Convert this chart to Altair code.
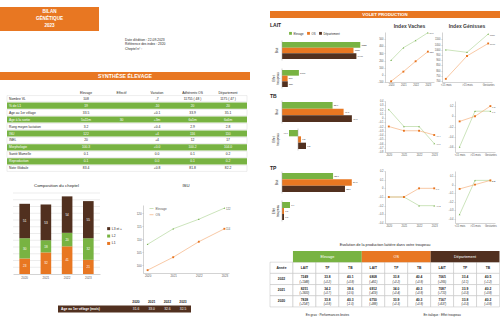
import altair as alt
import pandas as pd

FONT = "Liberation Sans"
ORANGE = "#E87722"
GREEN = "#78B342"
BROWN = "#51301F"
DARK = "#262626"
LBL = "#595959"
AXIS = "#A6A6A6"
GRID = "#D9D9D9"
LINE_E = "#A9D18E"
LINE_O = "#F4A46A"
MARK_E = "#70AD47"
MARK_O = "#E8731C"
W, HT = 500, 329

# ---------------- data ----------------
syn_rows = ["Nombre VL", "% de L1", "Age au 1er vêlage", "Age à la sortie", "Rang moyen lactation",
            "ISU", "INEL", "Morphologie", "Santé Mamelle", "Reproduction", "Note Globale"]
syn_cols = ["Elevage", "Effectif", "Variation", "Adhérents OS", "Département"]
syn_elevage = ["108", "19", "33.5", "5a11m", "3.2", "122", "20", "100.3", "0.1", "0.1", "83.4"]
syn_effectif = ["", "", "", "30", "", "", "", "", "", "", ""]
syn_variation = ["-7", "-10", "+0.1", "+3m", "+0.4", "+4", "+4", "+0.0", "0.0", "0.0", "+0.8"]
syn_os = ["11755 ( 48 )", "20", "33.9", "6a5m", "2.9", "116", "12", "100.2", "0.1", "0.1", "81.8"]
syn_dep = ["1175 ( 47 )", "20", "35.1", "6a6m", "2.8", "110", "17", "104.0", "0.2", "0.2", "82.2"]
syn_green = [False, True, False, True, False, True, False, True, False, True, False]

compo_years = ["2020", "2021", "2022", "2023"]
compo_l1 = [23, 32, 41, 21]
compo_l2 = [30, 18, 20, 32]
compo_l3 = [51, 53, 54, 55]

isu_elevage = [108, 114, 117.7, 122]
isu_os = [98, 103, 109, 114]

age_values = ["31.6", "33.0", "32.6", "32.5"]

series = ["Elevage", "OS", "Département"]
lait_brut = [7828, 7150, 7440]
lait_effet = [1690, 560, 580]
tb_brut = [38.9, 40.1, 41.0]
tb_effet = [-0.9, 0.3, 0.8]
tp_brut = [33.0, 34.1, 33.7]
tp_effet = [0.4, 0.1, 0.1]

gen_cats = ["<15 mois", ">15 mois", "Gestantes"]
lait_vaches_elev = [205, 380, 480, 590]
lait_vaches_os = [-90, 45, 190, 325]
lait_gen_elev = [1000, 975, 1150]
lait_gen_os = [720, 940, 1060]
tb_vaches_elev = [0.2, -0.2, -0.2, -0.6]
tb_vaches_os = [-0.2, -0.3, -0.3, -0.4]
tb_gen_elev = [-0.6, 0.1, 0.1]
tb_gen_os = [-0.1, 0.0, 0.2]
tp_vaches_elev = [-0.1, -0.1, -0.2, -0.2]
tp_vaches_os = [-0.1, -0.1, 0.0, 0.0]
tp_gen_elev = [-0.35, 0.05, 0.05]
tp_gen_os = [-0.05, 0.0, 0.05]

prod_years = ["2022", "2021", "2020"]
prod_groups = ["Elevage", "OS", "Département"]
prod_cols = ["LAIT", "TP", "TB"]
prod_2022_val = ["7249", "33.8", "40.1", "6808", "33.8", "40.4", "7065", "33.4", "40.5"]
prod_2022_delta = ["(+1348)", "(+0.2)", "(+0.8)", "(+451)", "(+0.2)", "(+0.8)", "(+265)", "(-0.1)", "(+1.2)"]
prod_2021_val = ["8251", "34.2", "38.6", "6912", "34.0", "40.3", "7087", "33.9", "40.2"]
prod_2021_delta = ["(+1600)", "(+0.7)", "(-0.5)", "(+419)", "(+0.4)", "(+0.8)", "(+710)", "(+0.3)", "(+0.8)"]
prod_2020_val = ["7828", "33.8", "40.3", "6750", "33.9", "40.3", "7167", "33.8", "40.2"]
prod_2020_delta = ["(+2147)", "(+0.8)", "(-1.0)", "(+388)", "(+0.3)", "(+0.8)", "(+637)", "(+0.3)", "(+0.8)"]

one = pd.DataFrame({"k": [0]})

COLOR_SCALE = alt.Scale(domain=series, range=[GREEN, ORANGE, BROWN])
STROKE_SCALE = alt.Scale(domain=["Elevage", "OS"], range=[LINE_E, LINE_O])


# ---------------- helpers ----------------
def T(text, x, y, size, color=DARK, weight="normal", align="left", baseline="middle", angle=0, style="normal"):
    return alt.Chart(one).mark_text(fontSize=size, fill=color, fontWeight=weight, align=align,
                                    baseline=baseline, angle=angle, fontStyle=style).encode(
        x=alt.value(x), y=alt.value(y), text=alt.value(text))


def R(x0, x1, y0, y1, color):
    return alt.Chart(one).mark_rect(fill=color).encode(
        x=alt.value(x0), x2=alt.value(x1), y=alt.value(y0), y2=alt.value(y1))


def line_chart(cats, elev, os_, domain, ticks, xr, yr, pad, tick_expr, vfmt,
               legend=None, lab_size=2.6, end_size=2.4):
    n = len(cats)
    df = pd.DataFrame({"cat": cats + cats, "serie": ["Elevage"] * n + ["OS"] * n,
                       "v": elev + os_, "last": [False] * (n - 1) + [True] + [False] * (n - 1) + [True]})
    xs = alt.X("cat:N", scale=alt.Scale(type="point", domain=cats, range=xr, padding=pad),
               axis=alt.Axis(orient="bottom", offset=yr[0] - HT, title=None, labelAngle=0,
                             labelFontSize=lab_size, labelColor=LBL, domainColor=AXIS, domainWidth=0.5,
                             ticks=False, labelPadding=1.5, labelOverlap=False))
    ys = alt.Y("v:Q", scale=alt.Scale(domain=domain, range=yr, nice=False, zero=False),
               axis=alt.Axis(orient="left", offset=-xr[0], title=None, values=ticks, grid=False,
                             labelExpr=tick_expr, labelFontSize=lab_size, labelColor=LBL, domainColor=AXIS,
                             domainWidth=0.5, tickColor=AXIS, tickSize=1, tickWidth=0.5, labelPadding=1,
                             labelOverlap=False))
    base = alt.Chart(df)
    line = base.mark_line(strokeWidth=0.6).encode(
        x=xs, y=ys, stroke=alt.Stroke("serie:N", scale=STROKE_SCALE, legend=legend))
    pe = base.transform_filter("datum.serie == 'Elevage'").mark_point(
        shape="triangle-up", filled=True, size=3, fill=MARK_E, strokeWidth=0, opacity=1).encode(x=xs, y=ys)
    po = base.transform_filter("datum.serie == 'OS'").mark_point(
        shape="square", filled=True, size=3.5, fill=MARK_O, strokeWidth=0, opacity=1).encode(x=xs, y=ys)
    lab = base.transform_filter("datum.last").mark_text(
        align="left", dx=1.6, dy=0.8, fontSize=end_size, fill=LBL).encode(
        x=xs, y=ys, text=alt.Text("v:Q", format=vfmt))
    return alt.layer(line, pe, po, lab)


def bar_chart(vals, domain, base0, xr, yr, title_lines, fmt, legend=None):
    df = pd.DataFrame({"serie": series, "v": vals, "b": [base0] * len(vals)})
    xsc = alt.Scale(domain=domain, range=xr, nice=False, zero=False)
    ys = alt.Y("serie:N", scale=alt.Scale(domain=series, range=yr, paddingInner=0, paddingOuter=0), axis=None)
    xs = alt.X("v:Q", scale=xsc, axis=None)
    b = alt.Chart(df)
    bars = b.mark_bar().encode(
        x=xs, x2="b:Q", y=ys,
        color=alt.Color("serie:N", scale=COLOR_SCALE, legend=legend))
    rule = alt.Chart(pd.DataFrame({"b": [base0]})).mark_rule(stroke=AXIS, strokeWidth=0.5).encode(
        x=alt.X("b:Q", scale=xsc, axis=None), y=alt.value(yr[0] - 1.5), y2=alt.value(yr[1] + 1.5))
    lp = b.transform_filter("datum.v >= 0").mark_text(
        align="left", dx=1.2, fontSize=2.3, fill=DARK).encode(
        x=xs, y=ys, text=alt.Text("v:Q", format=fmt))
    ln = b.transform_filter("datum.v < 0").mark_text(
        align="right", dx=-1.2, fontSize=2.3, fill=DARK).encode(
        x=xs, y=ys, text=alt.Text("v:Q", format=fmt))
    layers = [bars, rule, lp, ln]
    mid = (yr[0] + yr[1]) / 2
    if len(title_lines) == 1:
        layers.append(T(title_lines[0], 277, mid, 3.1, align="center", angle=270))
    else:
        layers.append(T(title_lines[0], 274.2, mid, 3.1, align="center", angle=270))
        layers.append(T(title_lines[1], 277.6, mid, 3.1, align="center", angle=270))
    return alt.layer(*layers)


panels = []

# ---------------- header (left) ----------------
panels += [
    R(0, 99, 7, 31, ORANGE),
    T("BILAN", 49.5, 12.3, 4.6, "white", "bold", "center"),
    T("GÉNÉTIQUE", 49.5, 19, 4.6, "white", "bold", "center"),
    T("2023", 49.5, 25.7, 4.6, "white", "bold", "center"),
    T("Date d'édition : 22-09-2023", 125, 40, 3.3),
    T("Référence des index : 2320", 125, 44.4, 3.3),
    T("Cheptel n° :", 125, 48.8, 3.3),
    R(0, 250, 72, 80, ORANGE),
    T("SYNTHÈSE ÉLEVAGE", 125, 76.2, 5.2, "white", "bold", "center"),
]

# ---------------- synthese table ----------------
syn_long = []
for i, r in enumerate(syn_rows):
    for c, arr in zip(syn_cols, [syn_elevage, syn_effectif, syn_variation, syn_os, syn_dep]):
        syn_long.append({"row": r, "col": c, "val": arr[i], "green": syn_green[i]})
syn_df = pd.DataFrame(syn_long)
syn_row_df = pd.DataFrame({"row": syn_rows, "green": syn_green})
syn_hdr_df = pd.DataFrame({"row": ["__hdr"] * 5, "col": syn_cols})

ysc = alt.Scale(domain=["__hdr"] + syn_rows, range=[88.6, 171.4], paddingInner=0.12, paddingOuter=0)
xsc = alt.Scale(type="point", domain=syn_cols, range=[86, 228], padding=0)
Yr = alt.Y("row:N", scale=ysc, axis=None)
Xc = alt.X("col:N", scale=xsc, axis=None)

panels.append(alt.layer(
    alt.Chart(syn_row_df).transform_filter("datum.green").mark_rect(fill=GREEN).encode(
        x=alt.value(7), x2=alt.value(247), y=Yr),
    alt.Chart(syn_row_df).transform_filter("!datum.green").mark_rect(
        fill="white", stroke="#CFCFCF", strokeWidth=0.35).encode(x=alt.value(7), x2=alt.value(247), y=Yr),
    alt.Chart(syn_row_df).transform_filter("!datum.green").mark_text(
        align="left", fontSize=3.3, fill=DARK).encode(x=alt.value(9), y=Yr, text="row:N"),
    alt.Chart(syn_row_df).transform_filter("datum.green").mark_text(
        align="left", fontSize=3.3, fill="white").encode(x=alt.value(9), y=Yr, text="row:N"),
    alt.Chart(syn_df).transform_filter("!datum.green").mark_text(fontSize=3.3, fill=DARK).encode(
        x=Xc, y=Yr, text="val:N"),
    alt.Chart(syn_df).transform_filter("datum.green").mark_text(fontSize=3.3, fill="white").encode(
        x=Xc, y=Yr, text="val:N"),
    alt.Chart(syn_hdr_df).mark_text(fontSize=3.3, fill=DARK, dy=1.5).encode(x=Xc, y=Yr, text="col:N"),
))

# ---------------- composition du cheptel ----------------
compo_df = pd.DataFrame({"year": compo_years * 3,
                         "cat": ["L1"] * 4 + ["L2"] * 4 + ["L3 et +"] * 4,
                         "v": compo_l1 + compo_l2 + compo_l3,
                         "ord": [0] * 4 + [1] * 4 + [2] * 4})
cbase = alt.Chart(compo_df).transform_window(
    y1="sum(v)", groupby=["year"], sort=[alt.SortField("ord", order="ascending")], frame=[None, 0]
).transform_calculate(y0="datum.y1 - datum.v", mid="datum.y1 - datum.v / 2")
cys = alt.Scale(domain=[0, 120], range=[274, 193], nice=False)
cx = alt.X("year:N", scale=alt.Scale(domain=compo_years, range=[13, 100], paddingInner=0.5, paddingOuter=0.3),
           axis=alt.Axis(orient="bottom", offset=274 - HT, title=None, labelAngle=0, labelFontSize=3,
                         labelColor=LBL, domainColor=AXIS, domainWidth=0.5, ticks=False, labelPadding=2))
cy = alt.Y("y0:Q", scale=cys,
           axis=alt.Axis(orient="left", offset=-13, title=None, values=list(range(0, 121, 10)), grid=False,
                         labelFontSize=3, labelColor=LBL, domain=True, domainColor=AXIS, domainWidth=0.5,
                         tickColor=AXIS, tickSize=1, tickWidth=0.5, labelPadding=1.5, labelOverlap=False))
panels.append(alt.layer(
    alt.Chart(pd.DataFrame({"g": list(range(10, 121, 10))})).mark_rule(stroke=GRID, strokeWidth=0.5).encode(
        y=alt.Y("g:Q", scale=cys, axis=None), x=alt.value(13), x2=alt.value(100)),
    cbase.mark_bar().encode(
        x=cx, y=cy, y2="y1:Q",
        fill=alt.Fill("cat:N", scale=alt.Scale(domain=["L3 et +", "L2", "L1"], range=[BROWN, GREEN, ORANGE]),
                      legend=alt.Legend(orient="none", legendX=107, legendY=227, title=None,
                                        symbolType="square", symbolSize=9, symbolStrokeWidth=0,
                                        labelFontSize=3.3, labelColor=DARK, rowPadding=2.4,
                                        labelOffset=1.5, padding=0))),
    cbase.mark_text(fill="white", fontSize=3.1).encode(x=cx, y=alt.Y("mid:Q", scale=cys, axis=None), text="v:Q"),
))
panels.append(T("Composition du cheptel", 56.5, 186, 4.3, align="center"))

# ---------------- ISU ----------------
panels.append(line_chart(compo_years, isu_elevage, isu_os, [96.9, 123.2], [100, 105, 110, 115, 120],
                         [143, 229], [273, 205], 0.18, "format(datum.value, 'd')", "d",
                         lab_size=2.9, end_size=2.6,
                         legend=alt.Legend(orient="none", legendX=149, legendY=206, title=None,
                                           symbolType="stroke", symbolStrokeWidth=0.6, symbolSize=16,
                                           labelFontSize=3.1, labelColor=LBL, rowPadding=1.2,
                                           labelOffset=1.5, padding=0)))
panels.append(T("ISU", 186, 186, 4.3, align="center"))

# ---------------- age table ----------------
age_df = pd.DataFrame({"year": compo_years, "v": age_values, "r": ["row"] * 4})
age_hdr = pd.DataFrame({"year": compo_years, "r": ["hdr"] * 4})
ax = alt.X("year:N", scale=alt.Scale(type="point", domain=compo_years, range=[136, 183], padding=0), axis=None)
ay = alt.Y("r:N", scale=alt.Scale(domain=["hdr", "row"], range=[298, 312.5], paddingInner=0.05, paddingOuter=0),
           axis=None)
panels.append(alt.layer(
    alt.Chart(age_hdr).mark_text(fontSize=3.3, fontWeight="bold", fill=DARK).encode(x=ax, y=ay, text="year:N"),
    alt.Chart(pd.DataFrame({"r": ["row"]})).mark_rect(fill=BROWN).encode(x=alt.value(58), x2=alt.value(191), y=ay),
    alt.Chart(pd.DataFrame({"r": ["row"]})).mark_text(align="left", fontSize=3.3, fontWeight="bold",
                                                      fill="white").encode(
        x=alt.value(61), y=ay, text=alt.value("Age au 1er vêlage (mois)")),
    alt.Chart(age_df).mark_text(fontSize=3.3, fill="white").encode(x=ax, y=ay, text="v:N"),
))

# ---------------- right: volet production ----------------
panels += [
    R(270, 500, 11, 18, ORANGE),
    T("VOLET PRODUCTION", 385, 14.7, 4.4, "white", "bold", "center"),
    T("LAIT", 270, 25, 5, weight="bold"),
    T("TB", 270, 95.5, 5, weight="bold"),
    T("TP", 270, 168, 5, weight="bold"),
    T("Index Vaches", 409.5, 26, 5, "#404040", "bold", "center"),
    T("Index Génisses", 467, 26, 5, "#404040", "bold", "center"),
]

bar_legend = alt.Legend(orient="none", legendX=289, legendY=31.5, direction="horizontal", title=None,
                        symbolType="square", symbolSize=8, symbolStrokeWidth=0, labelFontSize=2.8,
                        labelColor=DARK, columnPadding=3, labelOffset=1.5, padding=0)
t_lbl = "datum.value == 0 ? '0' : format(datum.value, '.1f')"
d_lbl = "format(datum.value, 'd')"

panels += [
    bar_chart(lait_brut, [0, 8000], 0, [282, 362], [42, 59], ["Brut"], "d", legend=bar_legend),
    bar_chart(lait_effet, [0, 8000], 0, [282, 362], [70, 87], ["Effet", "troupeau"], "d"),
    line_chart(compo_years, lait_vaches_elev, lait_vaches_os, [-100, 600],
               [-100, 0, 100, 200, 300, 400, 500], [385, 434], [82, 32], 0.5, d_lbl, "d"),
    line_chart(gen_cats, lait_gen_elev, lait_gen_os, [690, 1170],
               [700, 750, 800, 850, 900, 950, 1000, 1050, 1100], [442, 492], [82, 32], 0.18, d_lbl, "d"),

    bar_chart(tb_brut, [33.4, 42.1], 33.4, [282, 362], [102, 122], ["Brut"], ".1f"),
    bar_chart(tb_effet, [-1.6, 6.4], 0, [282, 362], [130, 149], ["Effet", "troupeau"], ".1f"),
    line_chart(compo_years, tb_vaches_elev, tb_vaches_os, [-0.8, 0.4],
               [-0.8, -0.7, -0.6, -0.5, -0.4, -0.3, -0.2, -0.1, 0, 0.1, 0.2, 0.3, 0.4],
               [385, 438], [152, 101], 0.25, t_lbl, ".1f"),
    line_chart(gen_cats, tb_gen_elev, tb_gen_os, [-0.7, 0.3], [-0.6, -0.4, -0.2, 0, 0.2],
               [455, 495], [152, 101], 0.3, t_lbl, ".1f"),

    bar_chart(tp_brut, [30, 34.7], 30, [282, 362], [173, 192], ["Brut"], ".1f"),
    bar_chart(tp_effet, [0, 4], 0, [282, 362], [202, 220], ["Effet", "troupeau"], ".1f"),
    line_chart(compo_years, tp_vaches_elev, tp_vaches_os, [-0.4, 0.2],
               [-0.4, -0.3, -0.2, -0.1, 0, 0.1, 0.2], [385, 438], [223, 171], 0.25, t_lbl, ".1f"),
    line_chart(gen_cats, tp_gen_elev, tp_gen_os, [-0.45, 0.16],
               [-0.4, -0.3, -0.2, -0.1, 0, 0.1], [455, 495], [223, 171], 0.3, t_lbl, ".1f"),
]

# ---------------- production table ----------------
col_names = ["Année"] + prod_cols * 3
grp_df = pd.DataFrame({"g": prod_groups, "gi": [0, 1, 2]})
cells = []
for ci, name in enumerate(col_names):
    cells.append({"ci": ci, "ri": 1, "t": name, "d": ""})
for k, (yr, vals, dels) in enumerate(zip(prod_years,
                                         [prod_2022_val, prod_2021_val, prod_2020_val],
                                         [prod_2022_delta, prod_2021_delta, prod_2020_delta])):
    cells.append({"ci": 0, "ri": 2 + k, "t": yr, "d": ""})
    for j in range(9):
        cells.append({"ci": j + 1, "ri": 2 + k, "t": vals[j], "d": dels[j]})
cell_df = pd.DataFrame(cells)
notes_df = pd.DataFrame({"ci": [2, 7], "ri": [5.7, 5.7],
                         "t": ["En gras : Performances brutes", "En italique : Effet troupeau"]})

px = alt.Scale(domain=[-0.5, 9.5], range=[270, 499.5], nice=False, zero=False)
py = alt.Scale(domain=[0, 5.9], range=[251, 317], nice=False, zero=False)
cbase2 = alt.Chart(cell_df).transform_calculate(
    x0="datum.ci - 0.5", x1="datum.ci + 0.5", y0="datum.ri", y1="datum.ri + 1",
    yc="datum.ri + 0.5", yv="datum.ri + 0.36", yd="datum.ri + 0.72")
gbase = alt.Chart(grp_df).transform_calculate(
    x0="0.5 + 3 * datum.gi", x1="3.5 + 3 * datum.gi", y0="0 * datum.gi", y1="1 + 0 * datum.gi",
    xc="2 + 3 * datum.gi", yc="0.5 + 0 * datum.gi")
panels.append(alt.layer(
    cbase2.mark_rect(fill="white", stroke="#BFBFBF", strokeWidth=0.5).encode(
        x=alt.X("x0:Q", scale=px, axis=None), x2="x1:Q",
        y=alt.Y("y0:Q", scale=py, axis=None), y2="y1:Q"),
    gbase.mark_rect().encode(
        x=alt.X("x0:Q", scale=px, axis=None), x2="x1:Q",
        y=alt.Y("y0:Q", scale=py, axis=None), y2="y1:Q",
        color=alt.Color("g:N", scale=COLOR_SCALE, legend=None)),
    gbase.mark_text(fontSize=3.8, fill="white").encode(
        x=alt.X("xc:Q", scale=px, axis=None), y=alt.Y("yc:Q", scale=py, axis=None), text="g:N"),
    cbase2.transform_filter("datum.d == ''").mark_text(fontSize=3.3, fill=DARK, fontWeight="bold").encode(
        x=alt.X("ci:Q", scale=px, axis=None), y=alt.Y("yc:Q", scale=py, axis=None), text="t:N"),
    cbase2.transform_filter("datum.d != ''").mark_text(fontSize=3.3, fill=DARK, fontWeight="bold").encode(
        x=alt.X("ci:Q", scale=px, axis=None), y=alt.Y("yv:Q", scale=py, axis=None), text="t:N"),
    cbase2.transform_filter("datum.d != ''").mark_text(fontSize=2.8, fill=DARK, fontStyle="italic").encode(
        x=alt.X("ci:Q", scale=px, axis=None), y=alt.Y("yd:Q", scale=py, axis=None), text="d:N"),
    alt.Chart(notes_df).mark_text(fontSize=3.2, fill=DARK).encode(
        x=alt.X("ci:Q", scale=px, axis=None), y=alt.Y("ri:Q", scale=py, axis=None), text="t:N"),
))
panels.append(T("Evolution de la production laitière dans votre troupeau", 385, 245, 3.8, align="center"))

chart = alt.layer(*panels).resolve_scale(x="independent", y="independent").properties(
    width=W, height=HT, autosize=alt.AutoSizeParams(type="none"), padding=0, background="white"
).configure(font=FONT).configure_view(stroke=None).configure_legend(padding=0)

chart.save("out.html", embed_options={"renderer": "svg", "actions": False})
